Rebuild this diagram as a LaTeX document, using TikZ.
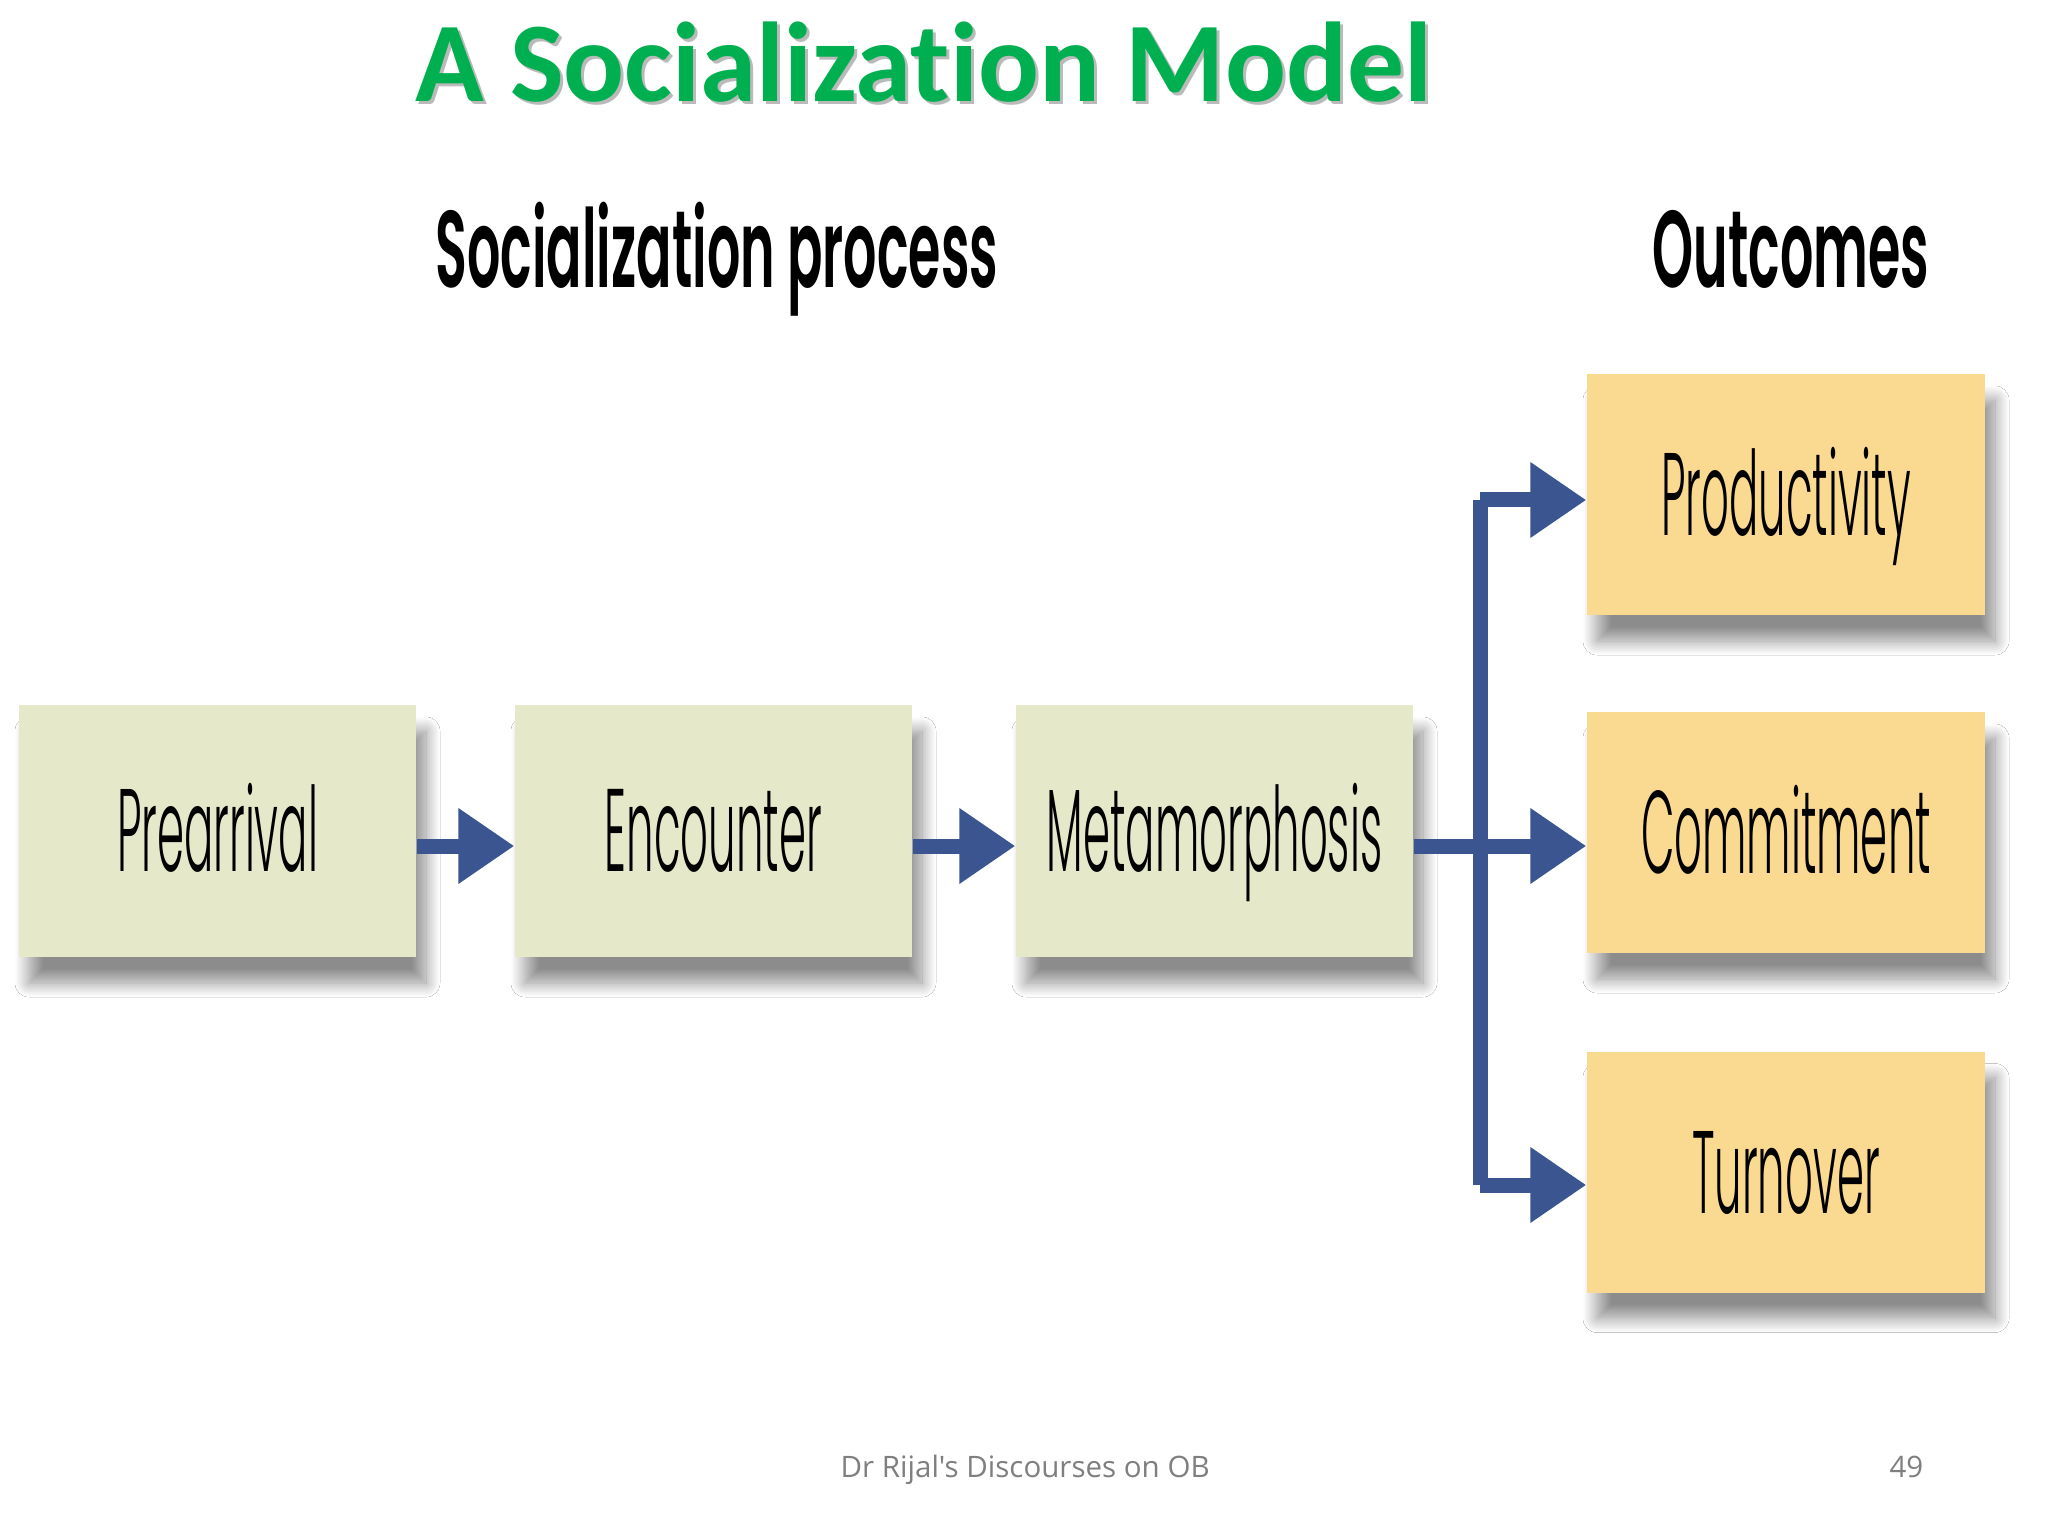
\documentclass[tikz,border=0pt]{standalone}
\usepackage{fontspec}
\usetikzlibrary{arrows.meta,shadows.blur,calc}
\setmainfont{Open Sans}[Ligatures=TeXOff]
\newfontfamily\titlefont{Carlito}[Ligatures={NoCommon,TeXOff}]
\newfontfamily\condfont{Poppins Light}[FakeStretch=0.37]
\newfontfamily\headfont{Poppins SemiBold}[FakeStretch=0.48]
\definecolor{titlegreen}{HTML}{00B050}
\definecolor{procfill}{HTML}{E5E8C9}
\definecolor{outfill}{HTML}{FAD990}
\definecolor{flowblue}{HTML}{3B5591}
\definecolor{footgray}{HTML}{7F7F7F}
\tikzset{
  boxbase/.style={minimum width=3.97cm, minimum height=2.52cm, inner sep=0pt,
    text height=0.82cm, text depth=0pt,
    font=\condfont\fontsize{33.4pt}{40pt}\selectfont,
    blur shadow={shadow xshift=0.1cm, shadow yshift=-0.26cm, shadow blur radius=0.14cm, shadow blur steps=20, shadow opacity=45}},
  procbox/.style={boxbase, fill=procfill},
  outbox/.style={boxbase, fill=outfill, minimum width=3.98cm, minimum height=2.41cm},
  flow/.style={draw=flowblue, line width=0.15cm, -{Triangle[length=0.56cm,width=0.72cm]}, color=flowblue},
  trunk/.style={draw=flowblue, line width=0.15cm},
  heading/.style={font=\headfont\fontsize{31pt}{38pt}\selectfont, inner sep=0pt, anchor=base west},
}
\begin{document}
\begin{tikzpicture}
\useasboundingbox[fill=white] (0,0) rectangle (20.48,-15.36);
% title with soft shadow
\node[anchor=base west, inner sep=0pt, text=black!45, opacity=0.6,
  font=\titlefont\bfseries\fontsize{32.3pt}{38pt}\selectfont] (titleshadow) at (4.18,-1.05) {A Socialization Model};
\node[anchor=base west, inner sep=0pt, text=titlegreen,
  font=\titlefont\bfseries\fontsize{32.3pt}{38pt}\selectfont] (title) at (4.15,-1.02) {A Socialization Model};
% headings
\node[heading] (hproc) at (4.35,-2.88) {Socialization process};
\node[heading] (hout) at (16.52,-2.88) {Outcomes};
% process boxes
\node[procbox] (pre) at (2.175,-8.31) {Prearrival};
\node[procbox] (enc) at (7.135,-8.31) {Encounter};
\node[procbox] (meta) at (12.145,-8.31) {Metamorphosis};
% outcome boxes
\node[outbox] (prod) at (17.86,-4.945) {Productivity};
\node[outbox] (com) at (17.86,-8.325) {Commitment};
\node[outbox] (turn) at (17.86,-11.72) {Turnover};
% connectors
\coordinate (row) at (0,-8.46);
\coordinate (top) at (14.80,-5.00);
\coordinate (bot) at (14.80,-11.85);
\draw[flow] (pre.east |- row) -- (enc.west |- row);
\draw[flow] (enc.east |- row) -- (meta.west |- row);
\draw[flow] (meta.east |- row) -- (com.west |- row);
\draw[trunk] (top) -- (bot);
\draw[flow] (top) -- (prod.west |- top);
\draw[flow] (bot) -- (turn.west |- bot);
% footer
\node[anchor=base west, inner sep=0pt, text=footgray, font=\fontsize{8.4pt}{10pt}\selectfont] (foot) at (8.40,-14.77) {Dr Rijal's Discourses on OB};
\node[anchor=base east, inner sep=0pt, text=footgray, font=\fontsize{8.4pt}{10pt}\selectfont] (page) at (19.24,-14.77) {49};
\end{tikzpicture}
\end{document}
